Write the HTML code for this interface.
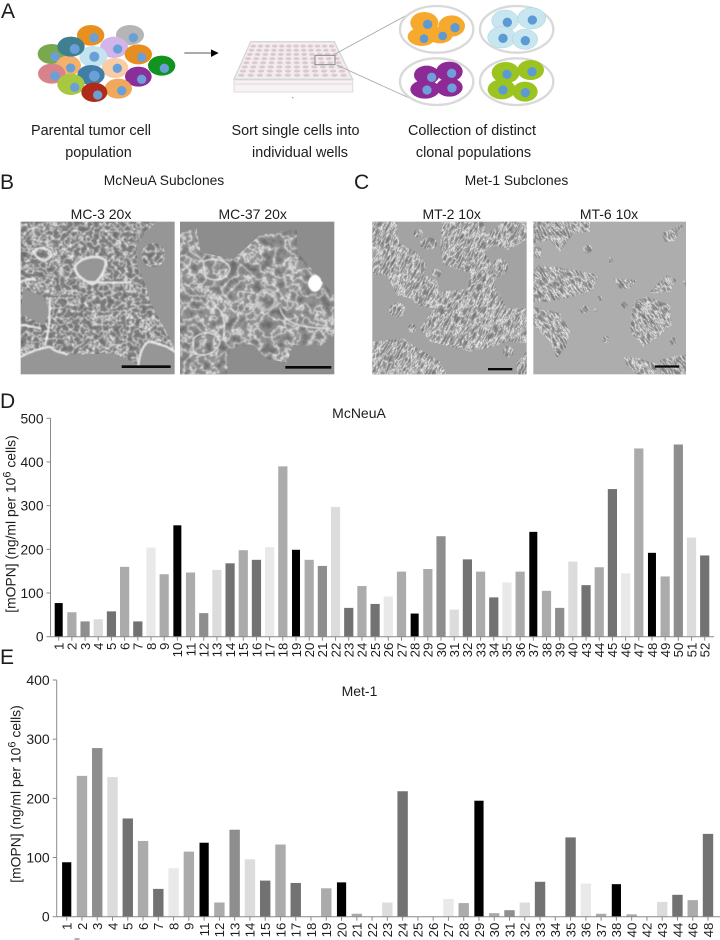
<!DOCTYPE html>
<html lang="en">
<head>
<meta charset="utf-8">
<title>Subclone figure</title>
<style>
html,body{margin:0;padding:0;background:#fff;width:720px;height:940px;overflow:hidden}
svg{display:block}
text{font-family:"Liberation Sans",Arial,sans-serif;fill:#1c1c1c}
</style>
</head>
<body>
<svg id="figure" xmlns="http://www.w3.org/2000/svg" width="720" height="940" viewBox="0 0 720 940">
<defs>
<filter id="texA" x="0" y="0" width="100%" height="100%" color-interpolation-filters="sRGB">
<feTurbulence type="fractalNoise" baseFrequency=".05" numOctaves="3" seed="7"/>
<feColorMatrix type="matrix" values="1 0 0 0 0 1 0 0 0 0 1 0 0 0 0 0 0 0 0 1"/>
<feComponentTransfer><feFuncR type="table" tableValues=".38 .38 .4 .42 .44 .46 .48 .5 .53 .58 .97 .6 .53 .5 .48 .46 .44 .42 .4 .4 .38"/><feFuncG type="table" tableValues=".38 .38 .4 .42 .44 .46 .48 .5 .53 .58 .97 .6 .53 .5 .48 .46 .44 .42 .4 .4 .38"/><feFuncB type="table" tableValues=".38 .38 .4 .42 .44 .46 .48 .5 .53 .58 .97 .6 .53 .5 .48 .46 .44 .42 .4 .4 .38"/></feComponentTransfer>
<feGaussianBlur stdDeviation="1.2"/>
</filter>
<filter id="texB" x="0" y="0" width="100%" height="100%" color-interpolation-filters="sRGB">
<feTurbulence type="fractalNoise" baseFrequency=".028" numOctaves="4" seed="21"/>
<feColorMatrix type="matrix" values="1 0 0 0 0 1 0 0 0 0 1 0 0 0 0 0 0 0 0 1"/>
<feComponentTransfer><feFuncR type="table" tableValues=".38 .38 .4 .42 .44 .46 .5 .54 .57 .6 .92 .62 .57 .54 .5 .46 .44 .42 .4 .4 .38"/><feFuncG type="table" tableValues=".38 .38 .4 .42 .44 .46 .5 .54 .57 .6 .92 .62 .57 .54 .5 .46 .44 .42 .4 .4 .38"/><feFuncB type="table" tableValues=".38 .38 .4 .42 .44 .46 .5 .54 .57 .6 .92 .62 .57 .54 .5 .46 .44 .42 .4 .4 .38"/></feComponentTransfer>
<feGaussianBlur stdDeviation="1.2"/>
</filter>
<filter id="texC" x="0" y="0" width="100%" height="100%" color-interpolation-filters="sRGB">
<feTurbulence type="fractalNoise" baseFrequency=".11 .035" numOctaves="3" seed="13"/>
<feColorMatrix type="matrix" values="1 0 0 0 0 1 0 0 0 0 1 0 0 0 0 0 0 0 0 1"/>
<feComponentTransfer><feFuncR type="table" tableValues=".42 .42 .44 .46 .48 .5 .54 .58 .62 .68 .95 .7 .62 .58 .54 .5 .48 .46 .44 .44 .42"/><feFuncG type="table" tableValues=".42 .42 .44 .46 .48 .5 .54 .58 .62 .68 .95 .7 .62 .58 .54 .5 .48 .46 .44 .44 .42"/><feFuncB type="table" tableValues=".42 .42 .44 .46 .48 .5 .54 .58 .62 .68 .95 .7 .62 .58 .54 .5 .48 .46 .44 .44 .42"/></feComponentTransfer>
<feGaussianBlur stdDeviation="1"/>
</filter>
<filter id="soft" x="-10%" y="-10%" width="120%" height="120%"><feGaussianBlur stdDeviation="1.4"/></filter>
<filter id="softer" x="-5%" y="-5%" width="110%" height="110%"><feGaussianBlur stdDeviation=".9"/></filter>
<clipPath id="clipMC3"><path d="M62,170H470L440,200L410,240L412,300L440,370L450,410L520,540L524,560L445,530L420,560L415,600L395,590L340,565L200,570L150,545L62,575Z M225,305C235,280 290,265 315,285C325,300 300,350 275,358C250,345 225,330 225,305Z M70,370L130,395L150,440L130,480L62,445Z" clip-rule="evenodd"/><circle cx="460" cy="270" r="36"/></clipPath>
<clipPath id="clipMC37"><path d="M540,200L590,190L602,262L700,282L780,210L890,190L892,262L950,330L1003,392V510L960,545L880,540L860,592L800,582L760,540L690,552L680,628H540Z"/></clipPath>
<clipPath id="clipMT2"><path d="M37,170H110L118,235L170,262L200,300L190,330L230,345L240,380L320,372L335,325L250,300L240,250L245,170H370L380,210L430,170H500V225L445,255L400,240L372,260L395,300L420,330L400,350L440,430L500,430V535L440,530L400,545L330,560L270,545L210,530L180,490L220,430L170,420L150,400L110,390L80,330L50,330L37,320Z M37,530L130,520L190,560L240,590L260,628H37Z M470,590L500,560V628H470Z"/><ellipse cx="112" cy="435" rx="24" ry="22"/><circle cx="157" cy="490" r="13"/><circle cx="175" cy="205" r="14"/><ellipse cx="205" cy="235" rx="26" ry="18"/><circle cx="420" cy="305" r="24"/><circle cx="445" cy="560" r="17"/><circle cx="230" cy="325" r="14"/></clipPath>
<clipPath id="clipMT6"><path d="M560,170H690V200L640,205L600,260L570,225L520,235V170Z M535,300L620,310L715,330L700,375L620,400L560,410L520,410V320Z M760,340L830,345L810,370L780,372Z M870,380L920,330L950,345L930,380L880,385Z M820,410L860,395L930,420L935,480L890,520L850,545L810,500Z M520,425L600,445L630,500L620,545L590,580L570,530L520,480Z M790,575L840,580L900,600L880,628H830L800,600Z M905,205L970,178L945,228L915,232Z M900,585L978,565V628H900Z M965,345L978,350V365Z M520,240L545,250L540,280L520,275Z"/><circle cx="683" cy="252" r="13"/><circle cx="752" cy="285" r="9"/><circle cx="720" cy="400" r="8"/><circle cx="672" cy="432" r="13"/><circle cx="738" cy="524" r="11"/><circle cx="940" cy="530" r="12"/><circle cx="793" cy="420" r="10"/><circle cx="707" cy="435" r="6"/></clipPath>
<clipPath id="frameMT2"><rect x="37" y="170" width="463" height="458"/></clipPath>
<clipPath id="frameMT6"><rect x="520" y="170" width="458" height="458"/></clipPath>
</defs>

<!-- PANEL A -->
<text x="1" y="18" font-size="21">A</text>
<g transform="scale(.33333)">
<g>
<ellipse cx="155" cy="162" rx="42" ry="30" fill="#7aa84f"/>
<ellipse cx="272" cy="106" rx="41" ry="31" fill="#e8901f"/>
<ellipse cx="390" cy="105" rx="42" ry="30" fill="#b5b5b5"/>
<ellipse cx="342" cy="142" rx="42" ry="32" fill="#d3b5ea"/>
<ellipse cx="280" cy="170" rx="42" ry="32" fill="#c3e4ee"/>
<ellipse cx="205" cy="197" rx="38" ry="30" fill="#f4b169"/>
<ellipse cx="345" cy="204" rx="40" ry="30" fill="#f8cda6"/>
<ellipse cx="213" cy="140" rx="41" ry="30" fill="#3f7f8f"/>
<ellipse cx="415" cy="163" rx="41" ry="30" fill="#e88e20"/>
<ellipse cx="155" cy="221" rx="41" ry="30" fill="#d8838a"/>
<ellipse cx="273" cy="225" rx="41" ry="30" fill="#3f7ea8"/>
<ellipse cx="213" cy="253" rx="41" ry="32" fill="#a8c840"/>
<ellipse cx="415" cy="230" rx="40" ry="30" fill="#8a2f9a"/>
<ellipse cx="485" cy="197" rx="41" ry="30" fill="#10931f"/>
<ellipse cx="355" cy="266" rx="41" ry="30" fill="#f0a85a"/>
<ellipse cx="283" cy="277" rx="39" ry="29" fill="#b02a18"/>
</g>
<g fill="#6b9fd8">
<circle cx="165" cy="170" r="14"/><circle cx="282" cy="113" r="14"/><circle cx="400" cy="113" r="14"/><circle cx="353" cy="147" r="14"/><circle cx="283" cy="170" r="15"/><circle cx="212" cy="204" r="14"/><circle cx="352" cy="205" r="14"/><circle cx="224" cy="147" r="15"/><circle cx="425" cy="172" r="14"/><circle cx="165" cy="228" r="14"/><circle cx="283" cy="228" r="16"/><circle cx="224" cy="262" r="14"/><circle cx="425" cy="238" r="14"/><circle cx="493" cy="205" r="14"/><circle cx="365" cy="272" r="14"/><circle cx="293" cy="285" r="14"/>
</g>
<g>
<line x1="553" y1="159" x2="636" y2="159" stroke="#555" stroke-width="3"/>
<path d="M633,148L656,159L633,171Z" fill="#000"/>
</g>
<g filter="url(#softer)">
<path d="M702,240H1058V276H702Z" fill="#f7f3f4" stroke="#e2e2e2" stroke-width="4"/>
<path d="M702,252H1058" stroke="#f3e2e6" stroke-width="7"/>
<path d="M752,125H1003L1058,238H702Z" fill="#f1eced" stroke="#d6d6d6" stroke-width="4"/>
<g id="wellsGroup" fill="#dcc8ce"></g>
<rect x="945" y="166" width="60" height="28" fill="none" stroke="#8a8a8a" stroke-width="3"/>
<circle cx="878" cy="293" r="2.5" fill="#aaa"/>
</g>
<g stroke="#a8a8a8" stroke-width="2.5" fill="none">
<path d="M1005,162L1240,35"/><path d="M1010,195L1232,296"/>
</g>
<g transform="translate(1080,0)">
<g>
<ellipse cx="230" cy="88" rx="110" ry="70" fill="#fff" stroke="#d9d9d9" stroke-width="7"/>
<ellipse cx="185" cy="110" rx="42" ry="28" fill="#f7a92d"/><ellipse cx="240" cy="105" rx="38" ry="25" fill="#f7a92d"/><ellipse cx="193" cy="68" rx="42" ry="32" fill="#f7a92d"/><ellipse cx="275" cy="78" rx="40" ry="32" fill="#f7a92d"/>
<g fill="#5b9ad5"><circle cx="203" cy="73" r="14"/><circle cx="285" cy="83" r="14"/><circle cx="192" cy="116" r="13"/><circle cx="248" cy="108" r="13"/></g>
</g>
<g>
<ellipse cx="470" cy="88" rx="110" ry="70" fill="#fff" stroke="#d9d9d9" stroke-width="7"/>
<g fill="#c7e6ef" stroke="#a9d2dd" stroke-width="1.5"><ellipse cx="435" cy="62" rx="40" ry="32"/><ellipse cx="515" cy="55" rx="42" ry="32"/><ellipse cx="425" cy="112" rx="42" ry="32"/><ellipse cx="495" cy="118" rx="38" ry="30"/></g>
<g fill="#5b9ad5"><circle cx="442" cy="67" r="14"/><circle cx="517" cy="60" r="14"/><circle cx="429" cy="115" r="14"/><circle cx="496" cy="122" r="14"/></g>
</g>
<g>
<ellipse cx="230" cy="245" rx="110" ry="70" fill="#fff" stroke="#d9d9d9" stroke-width="7"/>
<g fill="#8e2a96"><ellipse cx="200" cy="225" rx="38" ry="28"/><ellipse cx="195" cy="268" rx="44" ry="28"/><ellipse cx="268" cy="262" rx="40" ry="28"/><ellipse cx="268" cy="215" rx="40" ry="30"/></g>
<g fill="#6f9fdb"><circle cx="215" cy="232" r="14"/><circle cx="275" cy="220" r="14"/><circle cx="201" cy="270" r="14"/><circle cx="276" cy="264" r="14"/></g>
</g>
<g>
<ellipse cx="470" cy="245" rx="110" ry="70" fill="#fff" stroke="#d9d9d9" stroke-width="7"/>
<g fill="#9cc420"><ellipse cx="437" cy="218" rx="42" ry="32"/><ellipse cx="512" cy="210" rx="40" ry="30"/><ellipse cx="425" cy="268" rx="42" ry="30"/><ellipse cx="495" cy="275" rx="38" ry="30"/></g>
<g fill="#5b9ad5"><circle cx="441" cy="223" r="14"/><circle cx="516" cy="215" r="14"/><circle cx="429" cy="270" r="14"/><circle cx="496" cy="278" r="14"/></g>
</g>
</g>
</g>
<g font-size="14.4" text-anchor="middle">
<text x="91" y="135" text-anchor="middle">Parental tumor cell</text>
<text x="98.5" y="157" text-anchor="middle">population</text>
<text x="295.5" y="135" text-anchor="middle">Sort single cells into</text>
<text x="300" y="157" text-anchor="middle">individual wells</text>
<text x="472" y="135" text-anchor="middle">Collection of distinct</text>
<text x="473.5" y="157" text-anchor="middle">clonal populations</text>
</g>

<!-- PANEL B -->
<text x="0" y="189" font-size="21">B</text>
<text x="164" y="185" font-size="13.8" text-anchor="middle">McNeuA Subclones</text>
<text x="101" y="219" font-size="14" text-anchor="middle">MC-3 20x</text>
<text x="252.7" y="219" font-size="14" text-anchor="middle">MC-37 20x</text>
<g transform="translate(0,165) scale(.33333)">
<rect x="62" y="170" width="462" height="458" fill="#969696"/>
<g clip-path="url(#clipMC3)"><rect x="62" y="170" width="462" height="458" filter="url(#texA)"/></g>
<g fill="none" stroke="#f4f4f4" stroke-width="7" stroke-linecap="round" stroke-linejoin="round" filter="url(#soft)" opacity=".8">
<path d="M225,305C235,280 290,265 315,285C325,300 300,350 275,358C250,345 225,330 225,305Z" stroke-width="8"/>
<path d="M150,400C148,440 152,480 135,540"/><path d="M62,575C90,560 120,550 150,545C170,565 185,560 200,568"/><path d="M445,530C430,540 420,560 415,600"/><path d="M445,530C480,535 505,545 524,560"/><path d="M100,260C120,240 150,250 155,270C140,295 115,290 100,260Z"/><path d="M62,350C75,345 90,340 105,345"/><path d="M62,480C85,482 100,485 120,490"/><path d="M260,350C300,355 350,352 390,352"/>
</g>
<rect x="365" y="601" width="147" height="8" fill="#0a0a0a"/>
</g>
<g transform="translate(0,165) scale(.33333)">
<rect x="540" y="170" width="463" height="458" fill="#8d8d8d"/>
<g clip-path="url(#clipMC37)"><rect x="540" y="170" width="463" height="458" filter="url(#texB)"/></g>
<g fill="none" stroke="#ececec" stroke-width="5" stroke-linecap="round" stroke-linejoin="round" filter="url(#soft)" opacity=".75">
<path d="M610,290C640,275 680,285 690,310C680,350 640,350 615,335Z"/><path d="M580,520C610,495 650,500 660,530C650,570 600,580 580,560Z"/><path d="M780,430C760,400 780,370 810,375C835,385 830,420 810,432C800,436 790,436 780,430Z" stroke="#c4c4c4" stroke-width="10"/><path d="M640,420C660,430 680,450 670,520"/><path d="M840,430C850,460 870,490 990,490"/>
</g>
<ellipse cx="945" cy="355" rx="20" ry="25" fill="#fff" filter="url(#soft)"/>
<rect x="856" y="603" width="138" height="8" fill="#0a0a0a"/>
</g>

<!-- PANEL C -->
<text x="354" y="189" font-size="21">C</text>
<text x="516.5" y="185" font-size="13.8" text-anchor="middle">Met-1 Subclones</text>
<text x="451.7" y="219" font-size="14" text-anchor="middle">MT-2 10x</text>
<text x="609" y="219" font-size="14" text-anchor="middle">MT-6 10x</text>
<g transform="translate(360,165) scale(.33333)">
<rect x="37" y="170" width="463" height="458" fill="#a3a3a3"/>
<g clip-path="url(#frameMT2)"><g clip-path="url(#clipMT2)"><rect x="-120" y="10" width="780" height="780" filter="url(#texC)" transform="rotate(28 268 400)"/></g></g>
<rect x="384" y="609" width="73" height="7" fill="#0a0a0a"/>
</g>
<g transform="translate(360,165) scale(.33333)">
<rect x="520" y="170" width="458" height="458" fill="#adadad"/>
<g clip-path="url(#frameMT6)"><g clip-path="url(#clipMT6)"><rect x="360" y="10" width="780" height="780" filter="url(#texC)" transform="rotate(-35 750 400)"/></g></g>
<rect x="885" y="601" width="73" height="7" fill="#0a0a0a"/>
</g>

<!-- PANEL D -->
<text x="0" y="408" font-size="21">D</text>
<text x="359" y="418" font-size="14" text-anchor="middle">McNeuA</text>
<text transform="translate(15.5,524) rotate(-90)" font-size="13.9" text-anchor="middle">[mOPN] (ng/ml per 10<tspan dy="-5" font-size="11">6</tspan><tspan dy="5"> cells)</tspan></text>
<g id="chartD"></g>

<!-- PANEL E -->
<text x="0" y="664" font-size="21">E</text>
<text x="359.5" y="696" font-size="14" text-anchor="middle">Met-1</text>
<text transform="translate(20.5,794) rotate(-90)" font-size="13.9" text-anchor="middle">[mOPN] (ng/ml per 10<tspan dy="-5" font-size="11">6</tspan><tspan dy="5"> cells)</tspan></text>
<g id="chartE"></g>
<ellipse cx="77" cy="939" rx="3" ry="1" fill="#aaa"/>
</svg>

<script>
const categoriesD = ["1","2","3","4","5","6","7","8","9","10","11","12","13","14","15","16","17","18","19","20","21","22","23","24","25","26","27","28","29","30","31","32","33","34","35","36","37","38","39","40","43","44","45","46","47","48","49","50","51","52"];
const valuesD = [77,56,35,40,58,160,35,204,143,255,147,54,153,168,198,176,205,390,199,176,162,297,66,116,75,92,149,53,155,230,62,177,149,90,124,149,240,105,66,172,118,159,338,145,431,192,138,440,227,186];
const ticksD = [0,100,200,300,400,500];

const categoriesE = ["1","2","3","4","5","6","7","8","9","11","12","13","14","15","16","17","18","19","20","21","22","23","24","25","26","27","28","29","30","31","32","33","34","35","36","37","38","40","42","43","44","46","48"];
const valuesE = [92,238,285,236,166,128,47,82,110,125,24,147,97,61,122,57,1,48,58,5,0,24,212,0,0,30,23,196,6,11,24,59,0,134,56,5,55,4,0,25,37,28,140];
const ticksE = [0,100,200,300,400];

const shadeCycle = ["#000000","#ababab","#8e8e8e","#dcdcdc","#727272","#ababab","#727272","#e9e9e9","#ababab"];

const SVG_NS = "http://www.w3.org/2000/svg";

function drawChart(root, categories, values, ticks, g) {
  const yScale = v => g.y0 - (v / g.yMax) * (g.y0 - g.yTop);
  const xScale = i => g.xFirst + i * (g.xLast - g.xFirst) / (categories.length - 1);

  values.forEach((v, i) => {
    const black = i % shadeCycle.length === 0;
    const w = black ? g.barW - 1.2 : g.barW;
    const r = document.createElementNS(SVG_NS, "rect");
    r.setAttribute("x", xScale(i) - w / 2);
    r.setAttribute("y", yScale(v));
    r.setAttribute("width", w);
    r.setAttribute("height", Math.max(0, g.y0 - yScale(v)));
    r.setAttribute("fill", shadeCycle[i % shadeCycle.length]);
    
    
    root.appendChild(r);
  });

  const yAxis = document.createElementNS(SVG_NS, "line");
  yAxis.setAttribute("x1", g.xAxis); yAxis.setAttribute("x2", g.xAxis);
  yAxis.setAttribute("y1", g.yTop); yAxis.setAttribute("y2", g.y0);
  yAxis.setAttribute("stroke", "#8a8a8a");
  
  
  root.appendChild(yAxis);

  const xAxis = document.createElementNS(SVG_NS, "line");
  xAxis.setAttribute("x1", g.xAxis); xAxis.setAttribute("x2", g.xEnd);
  xAxis.setAttribute("y1", g.y0); xAxis.setAttribute("y2", g.y0);
  xAxis.setAttribute("stroke", "#8a8a8a");
  
  
  root.appendChild(xAxis);

  ticks.forEach(t => {
    const y = yScale(t);
    const tl = document.createElementNS(SVG_NS, "line");
    tl.setAttribute("x1", g.xAxis - 4); tl.setAttribute("x2", g.xAxis);
    tl.setAttribute("y1", y); tl.setAttribute("y2", y);
    tl.setAttribute("stroke", "#8a8a8a");
    
    
    root.appendChild(tl);
    const tx = document.createElementNS(SVG_NS, "text");
    tx.setAttribute("x", g.xAxis - 7);
    tx.setAttribute("y", y + 5);
    tx.setAttribute("text-anchor", "end");
    tx.setAttribute("font-size", g.tickFont);
    tx.textContent = t;
    
    
    root.appendChild(tx);
  });

  categories.forEach((c, i) => {
    const x = xScale(i);
    const tl = document.createElementNS(SVG_NS, "line");
    tl.setAttribute("x1", x); tl.setAttribute("x2", x);
    tl.setAttribute("y1", g.y0); tl.setAttribute("y2", g.y0 + 4);
    tl.setAttribute("stroke", "#8a8a8a");
    
    
    root.appendChild(tl);
    const tx = document.createElementNS(SVG_NS, "text");
    tx.setAttribute("transform", "translate(" + (x + 4.8) + "," + (g.y0 + 6) + ") rotate(-90)");
    tx.setAttribute("text-anchor", "end");
    tx.setAttribute("font-size", g.catFont);
    tx.textContent = c;
    
    
    root.appendChild(tx);
  });
}

drawChart(document.getElementById("chartD"), categoriesD, valuesD, ticksD,
  {y0:636.7, yTop:418.3, yMax:500, xAxis:50.5, xEnd:714, xFirst:58.7, xLast:704.7, barW:9.2, tickFont:13.8, catFont:13.2});
drawChart(document.getElementById("chartE"), categoriesE, valuesE, ticksE,
  {y0:916.7, yTop:680, yMax:400, xAxis:56.7, xEnd:720, xFirst:66.7, xLast:708, barW:10.4, tickFont:14, catFont:13.2});

// decorative plate wells (illustration only)
const wellsGroup = document.getElementById("wellsGroup");
for (let r = 0; r < 8; r++) {
  for (let c = 0; c < 12; c++) {
    const t = (r + 0.5) / 8;
    const left = 752 - 45 * t, right = 1003 + 45 * t;
    const well = document.createElementNS(SVG_NS, "ellipse");
    well.setAttribute("cx", left + (c + 0.5) * (right - left) / 12);
    well.setAttribute("cy", 132 + 100 * t);
    well.setAttribute("rx", 8 + 1.5 * t);
    well.setAttribute("ry", 4.5);
    
    
    wellsGroup.appendChild(well);
  }
}
</script>
</body>
</html>
